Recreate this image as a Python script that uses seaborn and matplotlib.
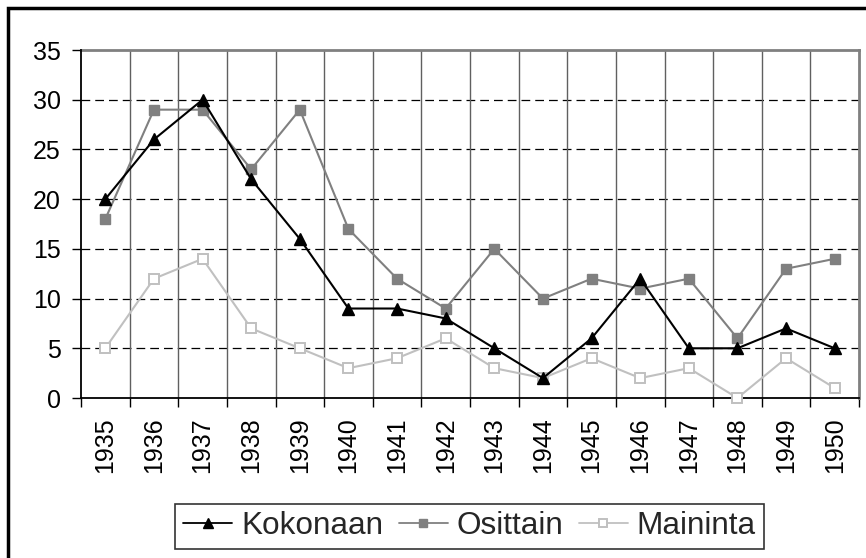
import numpy as np
import pandas as pd
import matplotlib
matplotlib.use("Agg")
import matplotlib.pyplot as plt
from matplotlib.lines import Line2D
from matplotlib.patches import Rectangle
import seaborn as sns

years = ["1935", "1936", "1937", "1938", "1939", "1940", "1941", "1942",
         "1943", "1944", "1945", "1946", "1947", "1948", "1949", "1950"]
kokonaan = [20, 26, 30, 22, 16, 9, 9, 8, 5, 2, 6, 12, 5, 5, 7, 5]
osittain = [18, 29, 29, 23, 29, 17, 12, 9, 15, 10, 12, 11, 12, 6, 13, 14]
maininta = [5, 12, 14, 7, 5, 3, 4, 6, 3, 2, 4, 2, 3, 0, 4, 1]
series_names = ["Kokonaan", "Osittain", "Maininta"]
yticks = [0, 5, 10, 15, 20, 25, 30, 35]

sns.set_theme(style="white")
plt.rcParams['font.family'] = ['Liberation Sans', 'DejaVu Sans']

fig = plt.figure(figsize=(8.66, 5.58), dpi=100)
W, H = 866, 558
ax = fig.add_axes([81 / W, 1 - 398 / H, (859 - 81) / W, (398 - 50) / H])

xpos = np.arange(len(years))
df = pd.DataFrame({"x": np.tile(xpos, 3),
                   "value": kokonaan + osittain + maininta,
                   "series": np.repeat(series_names, len(years))})

styles = {
    "Kokonaan": dict(color="black", marker="^", markersize=8.5, mfc="black", mec="black"),
    "Osittain": dict(color="#808080", marker="s", markersize=7, mfc="#808080", mec="#808080"),
    "Maininta": dict(color="#C0C0C0", marker="s", markersize=6.5, mfc="white", mec="#C0C0C0", mew=1.4),
}
order = ["Maininta", "Osittain", "Kokonaan"]
for name in order:
    st = styles[name]
    sub = df[df["series"] == name]
    sns.lineplot(data=sub, x="x", y="value", ax=ax, color=st["color"],
                 marker=st["marker"], markersize=st["markersize"],
                 markerfacecolor=st["mfc"], markeredgecolor=st["mec"],
                 markeredgewidth=st.get("mew", 1.0), linewidth=1.5,
                 legend=False, zorder=5 if name == "Kokonaan" else 4,
                 clip_on=False)

ax.set_xlim(-0.5, len(years) - 0.5)
ax.set_ylim(0, 35)
ax.set_yticks(yticks)
ax.set_yticklabels([str(v) for v in yticks])
ax.set_xticks(xpos)
ax.set_xticklabels(years, rotation=90)
ax.set_xticks(np.arange(-0.5, len(years), 1.0), minor=True)
ax.set_xlabel("")
ax.set_ylabel("")

# gridlines
for v in yticks[1:-1]:
    ax.axhline(v, color="black", linewidth=0.9, dashes=(7, 4), zorder=1)
for b in np.arange(0.5, len(years) - 0.5, 1.0):
    ax.axvline(b, color="#606060", linewidth=1.0, zorder=1)

ax.tick_params(axis="x", which="major", length=0, pad=14, labelsize=18, colors="black")
ax.tick_params(axis="x", which="minor", length=6.5, width=1.0, color="black", direction="out", bottom=True)
ax.tick_params(axis="y", which="major", length=6.5, width=1.0, color="black", direction="out",
               pad=8, labelsize=18, labelcolor="black", left=True)

for s in ["left", "bottom"]:
    ax.spines[s].set_color("black")
    ax.spines[s].set_linewidth(1.3)
    ax.spines[s].set_zorder(3)
for s in ["top", "right"]:
    ax.spines[s].set_color("#808080")
    ax.spines[s].set_linewidth(2.0)
ax.set_facecolor("white")

handles = []
for name in series_names:
    st = styles[name]
    handles.append(Line2D([], [], color=st["color"], marker=st["marker"],
                          markersize=st["markersize"] * 0.8, markerfacecolor=st["mfc"],
                          markeredgecolor=st["mec"], markeredgewidth=st.get("mew", 1.0),
                          linewidth=1.3))
leg = fig.legend(handles, series_names, loc="center", bbox_to_anchor=(469.5 / W, 1 - 526.5 / H),
                 ncol=3, fontsize=22.7, frameon=True, fancybox=False, edgecolor="black",
                 handlelength=1.55, handletextpad=0.28, columnspacing=0.5,
                 borderpad=0.25, borderaxespad=0)
leg.get_frame().set_linewidth(1.2)

# outer chart border (top and left visible)
fig.patches.append(Rectangle((8 / W, -0.1), 1.2, 1.1 - 8 / H, transform=fig.transFigure,
                             fill=False, edgecolor="black", linewidth=2.5))

fig.savefig("out.png", dpi=100, facecolor="white")
